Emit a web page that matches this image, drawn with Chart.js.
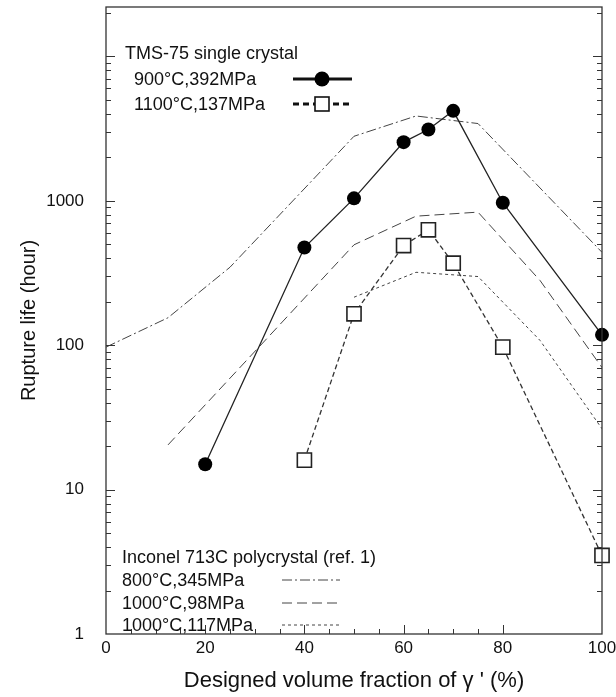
<!DOCTYPE html>
<html><head><meta charset="utf-8">
<title>Rupture life vs designed volume fraction of γ'</title>
<script src="https://cdn.jsdelivr.net/npm/chart.js@4.4.1/dist/chart.umd.min.js"></script>
<style>
html,body{margin:0;padding:0;background:#fff;overflow:hidden}
#wrap{position:relative;width:616px;height:697px}
#c{position:absolute;left:0;top:0}
.lg{position:absolute;font-family:"Liberation Sans",Arial,Helvetica,sans-serif;color:#111;white-space:nowrap;line-height:1;transform:translateY(-50%)}
.t{font-size:18px}
.b{font-size:18px}
svg.s{position:absolute;overflow:visible}
</style></head><body>
<div id="wrap">
<canvas id="c" width="616" height="697"></canvas>
<div class="lg t" style="left:125px;top:53px">TMS-75 single crystal</div>
<div class="lg t" style="left:134px;top:79px">900°C,392MPa</div>
<div class="lg t" style="left:134px;top:104px">1100°C,137MPa</div>
<svg class="s" style="left:0;top:0" width="616" height="697">
  <line x1="293" y1="79" x2="352" y2="79" stroke="#111" stroke-width="3"/>
  <circle cx="322" cy="79" r="7.5" fill="#000"/>
  <line x1="293" y1="104" x2="352" y2="104" stroke="#111" stroke-width="3" stroke-dasharray="6,4"/>
  <rect x="315" y="97" width="14" height="14" fill="#fff" stroke="#111" stroke-width="1.6"/>
  <line x1="282" y1="580" x2="340" y2="580" stroke="#444" stroke-width="1" stroke-dasharray="10,3,2,3"/>
  <line x1="282" y1="603" x2="340" y2="603" stroke="#444" stroke-width="1" stroke-dasharray="10,5"/>
  <line x1="282" y1="625" x2="340" y2="625" stroke="#444" stroke-width="1" stroke-dasharray="3,3"/>
</svg>
<div class="lg b" style="left:122px;top:557px">Inconel 713C polycrystal (ref. 1)</div>
<div class="lg b" style="left:122px;top:580px">800°C,345MPa</div>
<div class="lg b" style="left:122px;top:603px">1000°C,98MPa</div>
<div class="lg b" style="left:122px;top:625px">1000°C,117MPa</div>
</div>
<script>
// ---- data ----
const xTMS900  = [20, 40, 50, 60, 65, 70, 80, 100];
const yTMS900  = [15, 475, 1040, 2550, 3120, 4200, 970, 118];
const xTMS1100 = [40, 50, 60, 65, 70, 80, 100];
const yTMS1100 = [16, 165, 490, 630, 370, 97, 3.5];
const xIN800   = [0, 12.5, 25, 50, 62.5, 75, 100];
const yIN800   = [97, 155, 347, 2800, 3870, 3430, 440];
const xIN98    = [12.5, 50, 62.5, 75, 87.5, 100];
const yIN98    = [20.4, 496, 783, 835, 281, 70];
const xIN117   = [50, 62.5, 75, 87.5, 100];
const yIN117   = [215, 320, 299, 108, 26.4];
const yTickLabels = [1, 10, 100, 1000];
const xTickLabels = [0, 20, 40, 60, 80, 100];

const pts = (xs, ys) => xs.map((x, i) => ({x, y: ys[i]}));

const frame = {
  id: 'frame',
  afterDraw(chart) {
    const {ctx, chartArea: a, scales: {x, y}} = chart;
    ctx.save();
    ctx.strokeStyle = '#333';
    ctx.lineWidth = 1.3;
    ctx.strokeRect(a.left, a.top, a.right - a.left, a.bottom - a.top);
    ctx.lineWidth = 1;
    ctx.beginPath();
    for (let v = 5; v <= 80; v += 5) {
      const px = Math.round(x.getPixelForValue(v)) + 0.5;
      const len = v % 20 === 0 ? 9 : 5;
      ctx.moveTo(px, a.bottom); ctx.lineTo(px, a.bottom - len);
    }
    for (let e = 0; e <= 4; e++) {
      for (let m = 1; m <= 9; m++) {
        const v = m * Math.pow(10, e);
        if (v <= y.min || v >= y.max) continue;
        const py = Math.round(y.getPixelForValue(v)) + 0.5;
        const len = m === 1 ? 9 : 5;
        ctx.moveTo(a.left, py); ctx.lineTo(a.left + len, py);
        ctx.moveTo(a.right, py); ctx.lineTo(a.right - len, py);
      }
    }
    ctx.stroke();
    ctx.restore();
  }
};

const FONT = '"Liberation Sans", Arial, Helvetica, sans-serif';

new Chart(document.getElementById('c'), {
  type: 'line',
  data: {
    datasets: [
      {label: '900°C,392MPa', data: pts(xTMS900, yTMS900), borderColor: '#222', borderWidth: 1.3,
       pointRadius: 7, pointBackgroundColor: '#000', pointBorderColor: '#000', pointBorderWidth: 0, clip: false, order: 0},
      {label: '1100°C,137MPa', data: pts(xTMS1100, yTMS1100), borderColor: '#333', borderWidth: 1.3, borderDash: [5, 3],
       pointStyle: 'rect', pointRadius: 10, pointBackgroundColor: '#fff', pointBorderColor: '#222', pointBorderWidth: 1.6, clip: false, order: 0},
      {label: '800°C,345MPa', data: pts(xIN800, yIN800), borderColor: '#444', borderWidth: 1, borderDash: [10, 3, 2, 3], pointRadius: 0, order: 1},
      {label: '1000°C,98MPa', data: pts(xIN98, yIN98), borderColor: '#444', borderWidth: 1, borderDash: [10, 5], pointRadius: 0, order: 1},
      {label: '1000°C,117MPa', data: pts(xIN117, yIN117), borderColor: '#444', borderWidth: 1, borderDash: [3, 3], pointRadius: 0, order: 1}
    ]
  },
  options: {
    responsive: false,
    devicePixelRatio: 1,
    animation: false,
    layout: {autoPadding: false, padding: {top: 7, right: 14, bottom: 0, left: 0}},
    plugins: {legend: {display: false}, tooltip: {enabled: false}},
    elements: {line: {tension: 0}},
    scales: {
      x: {
        type: 'linear', min: 0, max: 100,
        grid: {display: false, drawTicks: false}, border: {display: false},
        ticks: {stepSize: 20, padding: 4, color: '#111', font: {family: FONT, size: 17},
                callback: v => xTickLabels.includes(v) ? String(v) : null, maxRotation: 0},
        title: {display: true, text: "Designed volume fraction of γ ' (%)", color: '#111',
                font: {family: FONT, size: 22}, padding: {top: 0, bottom: 3}},
        afterFit: s => { s.height = 63; s.paddingLeft = 0; s.paddingRight = 0; s.paddingTop = 0; s.paddingBottom = 0; }
      },
      y: {
        type: 'logarithmic', min: 1, max: 22000,
        grid: {display: false, drawTicks: false}, border: {display: false},
        ticks: {padding: 22, color: '#111', font: {family: FONT, size: 17},
                callback: v => yTickLabels.includes(v) ? String(v) : null},
        title: {display: true, text: 'Rupture life (hour)', color: '#111',
                font: {family: FONT, size: 20}, padding: {top: 17, bottom: 0}},
        afterFit: s => { s.width = 106; s.paddingTop = 0; s.paddingBottom = 0; s.paddingLeft = 0; s.paddingRight = 0; }
      }
    }
  },
  plugins: [frame]
});
</script>
</body></html>
